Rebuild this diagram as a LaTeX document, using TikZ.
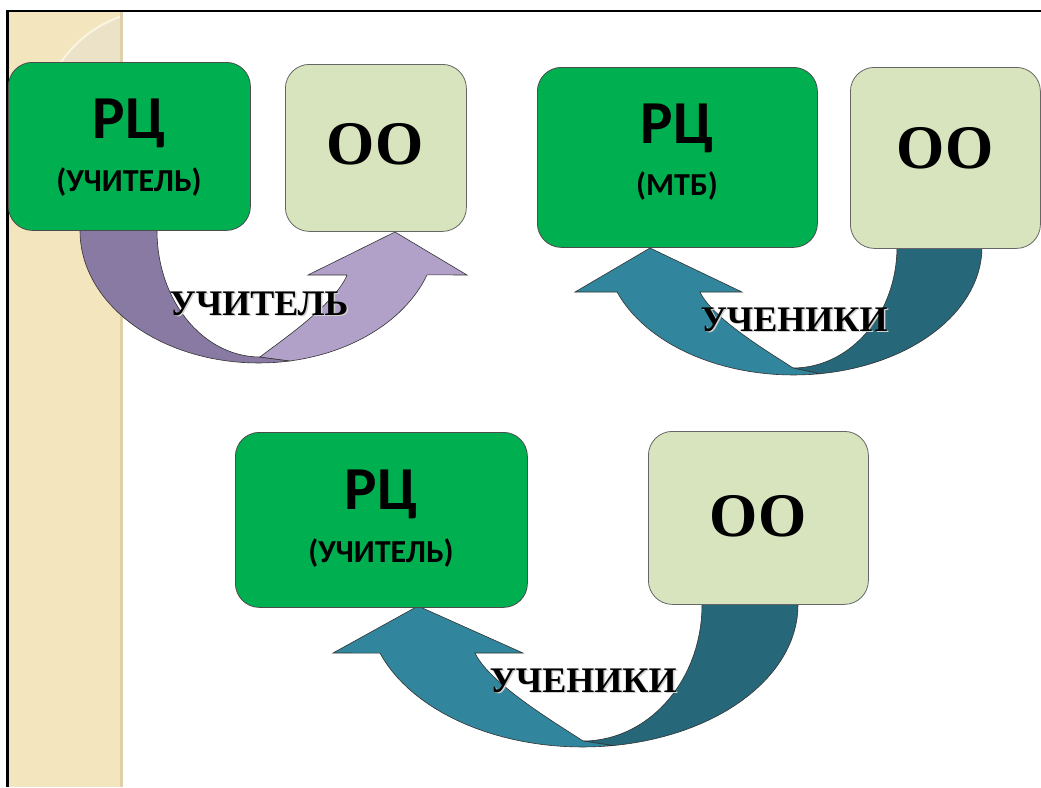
\documentclass[tikz,border=0pt]{standalone}
\usepackage{fontspec}
\setmainfont{Liberation Serif}
\newfontfamily\calfont{Carlito}
\definecolor{rcgreen}{RGB}{0,176,80}
\definecolor{oofill}{RGB}{215,228,189}
\definecolor{purdark}{RGB}{137,122,163}
\definecolor{purlight}{RGB}{177,161,200}
\definecolor{tealdark}{RGB}{38,104,122}
\definecolor{teallight}{RGB}{49,133,156}
\definecolor{stripbeige}{RGB}{243,230,190}
\definecolor{stripedge}{RGB}{222,208,168}
\definecolor{circfill}{RGB}{236,226,200}
\begin{document}
\begin{tikzpicture}[x=1pt,y=-1pt,
  rcbox/.style={draw=black!70, fill=rcgreen, rounded corners=24pt, line width=0.8pt, inner sep=0pt},
  oobox/.style={draw=black!60, fill=oofill, rounded corners=24pt, line width=0.8pt, inner sep=0pt},
  arrowpart/.style={draw=black!80, line width=0.6pt},
  rcbig/.style={font=\calfont\bfseries\fontsize{61}{61}\selectfont, inner sep=0pt, anchor=base},
  rcsmall/.style={font=\calfont\bfseries\fontsize{32}{32}\selectfont, inner sep=0pt, anchor=base},
  ootext/.style={font=\bfseries\fontsize{62}{62}\selectfont, inner sep=0pt, anchor=base},
  lbltext/.style={font=\bfseries\fontsize{36}{36}\selectfont, inner sep=0pt, anchor=base},
  lblshadow/.style={lbltext, text=black!18}
]
\useasboundingbox (0,0) rectangle (1041,787);
\fill[white] (0,0) rectangle (1041,787);
% left decorative strip
\fill[stripbeige] (9,12) rectangle (122,787);
\begin{scope}
  \clip (9,12) rectangle (121,787);
  \fill[circfill] (160,130) circle[radius=120];
  \draw[white!55!stripbeige, line width=2pt] (160,130) circle[radius=120];
\end{scope}
\fill[stripedge] (120,12) rectangle (123,787);
% frame
\draw[line width=2.5pt] (7.5,787) -- (7.5,11) -- (1041,11);

% ---- arrow 1 (purple) ----
\filldraw[arrowpart, fill=purdark] (80,222)
  -- plot[domain=180:79.9, samples=40, variable=\t] ({258.6+178.6*cos(\t)},{231+132*sin(\t)})
  -- (260,357)
  -- plot[domain=90:180, samples=30, variable=\t] ({260+103*cos(\t)},{231+126*sin(\t)})
  -- (157,222) -- cycle;
\filldraw[arrowpart, fill=purlight] (260,357)
  -- plot[domain=79.9:19.4, samples=30, variable=\t] ({258.6+178.6*cos(\t)},{231+132*sin(\t)})
  -- (467,275) -- (395,232) -- (308,275) -- (347,275)
  .. controls (335,305) and (275,345) .. (260,357) -- cycle;

% ---- arrow 2 (teal, top right) ----
\filldraw[arrowpart, fill=tealdark] (982,240)
  -- plot[domain=0:82, samples=30, variable=\t] ({793.5+188.5*cos(\t)},{247+128*sin(\t)})
  -- (793,368)
  -- plot[domain=90:0, samples=30, variable=\t] ({793+104*cos(\t)},{247+121*sin(\t)})
  -- (897,240) -- cycle;
\filldraw[arrowpart, fill=teallight] (793,368)
  -- plot[domain=82:159.4, samples=30, variable=\t] ({793.5+188.5*cos(\t)},{247+128*sin(\t)})
  -- (575,292) -- (650,248) -- (742,292) -- (700,292)
  .. controls (713,320) and (777,357) .. (793,368) -- cycle;

% ---- arrow 3 (teal, bottom) ----
\filldraw[arrowpart, fill=tealdark] (798,598)
  -- plot[domain=0:81.9, samples=30, variable=\t] ({582.6+215.4*cos(\t)},{605+142*sin(\t)})
  -- (583,741)
  -- plot[domain=90:0, samples=30, variable=\t] ({583+119*cos(\t)},{605+136*sin(\t)})
  -- (702,598) -- cycle;
\filldraw[arrowpart, fill=teallight] (583,741)
  -- plot[domain=81.9:160.2, samples=30, variable=\t] ({582.6+215.4*cos(\t)},{605+142*sin(\t)})
  -- (333,653) -- (418,606) -- (523,653) -- (475,653)
  .. controls (490,685) and (564,728) .. (583,741) -- cycle;

% ---- boxes ----
\node[rcbox, minimum width=242pt, minimum height=168pt, anchor=north west] (rc1) at (8,62) {};
\node[oobox, minimum width=181pt, minimum height=167pt, anchor=north west] (oo1) at (285,64) {};
\node[rcbox, minimum width=280pt, minimum height=180pt, anchor=north west] (rc2) at (537,67) {};
\node[oobox, minimum width=190pt, minimum height=181pt, anchor=north west] (oo2) at (850,67) {};
\node[rcbox, minimum width=292pt, minimum height=175pt, anchor=north west] (rc3) at (235,432) {};
\node[oobox, minimum width=220pt, minimum height=173pt, anchor=north west] (oo3) at (648,431) {};

% ---- box texts ----
\node[rcbig] (rc1a) at (129,138) {РЦ};
\node[rcsmall] (rc1b) at (129,191) {(УЧИТЕЛЬ)};
\node[rcbig] (rc2a) at (677,143) {РЦ};
\node[rcsmall] (rc2b) at (677,195) {(МТБ)};
\node[rcbig] (rc3a) at (381,509) {РЦ};
\node[rcsmall] (rc3b) at (381,562) {(УЧИТЕЛЬ)};
\node[ootext] (oo1t) at (375,164) {OO};
\node[ootext] (oo2t) at (945,168) {OO};
\node[ootext] (oo3t) at (758,536) {OO};

% ---- arrow labels ----
\node[lblshadow] at (260.5,316.5) {УЧИТЕЛЬ};
\node[lbltext] (lbl1) at (259,315) {УЧИТЕЛЬ};
\node[lblshadow] at (795.5,332.5) {УЧЕНИКИ};
\node[lbltext] (lbl2) at (794,331) {УЧЕНИКИ};
\node[lblshadow] at (584.5,693.5) {УЧЕНИКИ};
\node[lbltext] (lbl3) at (583,692) {УЧЕНИКИ};
\end{tikzpicture}
\end{document}
